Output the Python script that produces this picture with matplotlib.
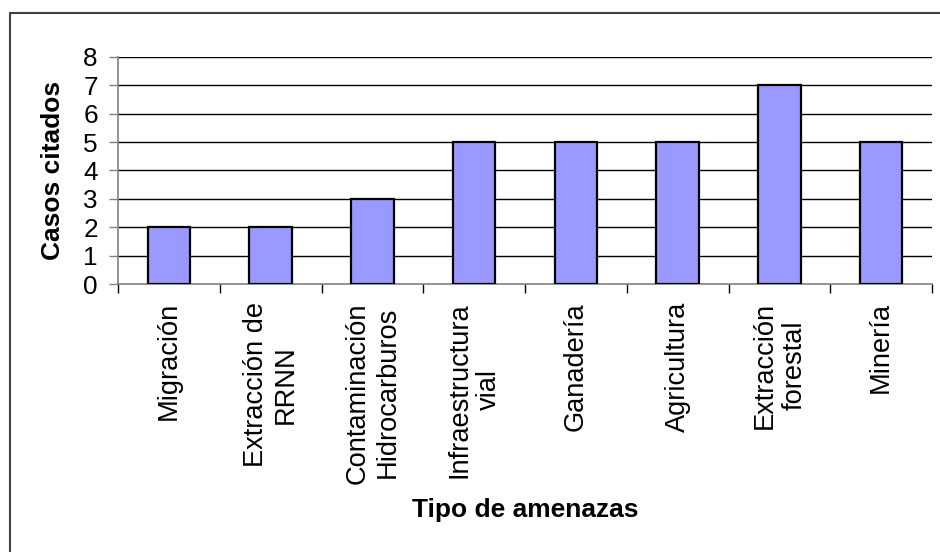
import matplotlib
matplotlib.use("Agg")
import matplotlib.pyplot as plt
from matplotlib.patches import Rectangle
import numpy as np

categories = ["Migración", "Extracción de\nRRNN", "Contaminación\nHidrocarburos",
              "Infraestructura\nvial", "Ganadería", "Agricultura",
              "Extracción\nforestal", "Minería"]
values = [2, 2, 3, 5, 5, 5, 7, 5]
yticks = [0, 1, 2, 3, 4, 5, 6, 7, 8]

plt.rcParams['font.family'] = ['Liberation Sans', 'DejaVu Sans']

W, H = 940, 552
fig = plt.figure(figsize=(W / 100, H / 100), dpi=100)
fig.patch.set_facecolor('white')

left, right, top, bottom = 118, 932, 57, 284
ax = fig.add_axes([left / W, 1 - bottom / H, (right - left) / W, (bottom - top) / H])

x = np.arange(len(categories))
ax.set_xlim(-0.5, len(categories) - 0.5)
ax.set_ylim(0, 8)

for y in yticks[1:]:
    ax.axhline(y, color='black', lw=1.0, zorder=1)

ax.bar(x, values, width=0.42, color='#9999FF', edgecolor='black', linewidth=1.6, zorder=3)

for s in ['top', 'right']:
    ax.spines[s].set_visible(False)
for s in ['left', 'bottom']:
    ax.spines[s].set_color('#808080')
    ax.spines[s].set_linewidth(1.2)
    ax.spines[s].set_zorder(2)

ax.set_yticks(yticks)
ax.set_yticklabels([str(v) for v in yticks], fontsize=18.8)
ax.tick_params(axis='y', direction='out', length=6.5, width=1, color='#808080', pad=8)

ax.set_xticks(x)
ax.set_xticklabels(categories, fontsize=19.6, rotation=90, ha='center', va='top',
                   multialignment='center', linespacing=1.2)
ax.tick_params(axis='x', which='major', length=0, pad=13)
ax.set_xticks(np.arange(-0.5, len(categories), 1.0), minor=True)
ax.tick_params(axis='x', which='minor', direction='out', length=6.5, width=1, color='black')

fig.text(53 / W, 1 - 170 / H, "Casos citados", rotation=90, ha='center', va='center',
         fontsize=19, fontweight='bold')
fig.text(525 / W, 1 - 510 / H, "Tipo de amenazas", ha='center', va='center',
         fontsize=19, fontweight='bold')

border = Rectangle((10 / W, -0.2), 1.2, 1 - 13 / H + 0.2, transform=fig.transFigure,
                   fill=False, edgecolor='#404040', lw=1.5, clip_on=False)
fig.patches.append(border)

fig.savefig("out.png", dpi=100)
